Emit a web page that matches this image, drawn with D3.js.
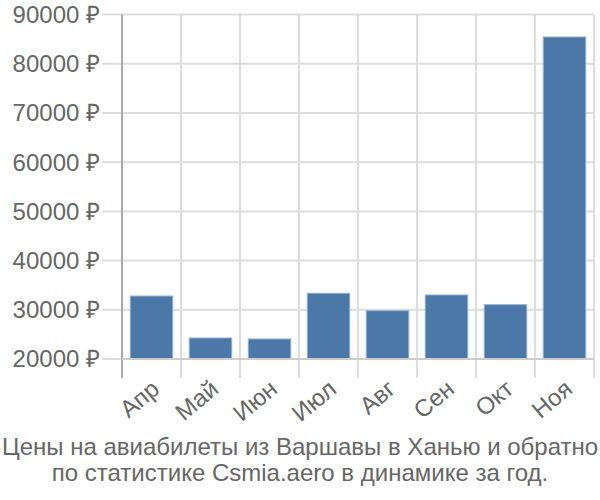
<!DOCTYPE html>
<html><head><meta charset="utf-8">
<script src="https://cdn.jsdelivr.net/npm/d3@7"></script>
<style>body{margin:0;background:#fff}svg{display:block}</style>
</head><body>
<svg id="c" width="600" height="500"></svg>
<script>
const categories = ["Апр","Май","Июн","Июл","Авг","Сен","Окт","Ноя"];
const values = [32800, 24270, 24070, 33350, 29820, 33010, 31040, 85450];
const yTicks = [20000,30000,40000,50000,60000,70000,80000,90000];
const titleLines = ["Цены на авиабилеты из Варшавы в Ханью и обратно","по статистике Csmia.aero в динамике за год."];

(function(){
const svg = d3.select("#c");
const mL = 122, mR = 594, mT = 14.6, mB = 359;
const x = d3.scaleBand().domain(categories).range([mL,mR]).paddingInner(0.28).paddingOuter(0.14);
const y = d3.scaleLinear().domain([20000,90000]).range([mB,mT]);
const font = "'Liberation Sans', Arial, sans-serif";

svg.append("g").selectAll("line").data(yTicks).join("line")
  .attr("x1",102).attr("x2",mR).attr("y1",d=>y(d)).attr("y2",d=>y(d))
  .attr("stroke","#ddd").attr("stroke-width",2);
const bounds = categories.map(c=>x(c)-x.step()*x.paddingOuter()).concat([mR]);
svg.append("g").selectAll("line").data(bounds.slice(1)).join("line")
  .attr("x1",d=>d).attr("x2",d=>d).attr("y1",mT).attr("y2",378)
  .attr("stroke","#ddd").attr("stroke-width",2);
svg.append("line").attr("x1",mL).attr("x2",mL).attr("y1",mT).attr("y2",378)
  .attr("stroke","#aaa").attr("stroke-width",2);

svg.append("g").selectAll("rect").data(values).join("rect")
  .attr("x",(d,i)=>x(categories[i])).attr("width",x.bandwidth())
  .attr("y",d=>y(d)).attr("height",d=>y(20000)-y(d))
  .attr("fill","#4c78a8").attr("stroke","#8fb0d4").attr("stroke-width",1);

svg.append("line").attr("x1",mL).attr("x2",mR).attr("y1",mB).attr("y2",mB)
  .attr("stroke","#ccc").attr("stroke-width",2);

svg.append("g").selectAll("text").data(yTicks).join("text")
  .attr("x",100).attr("y",d=>y(d)).attr("dy","0.35em").attr("text-anchor","end")
  .attr("font-family",font).attr("font-size",24).attr("fill","#666")
  .text(d=>d+" ₽");

svg.append("g").selectAll("text").data(categories).join("text")
  .attr("transform",c=>`translate(${x(c)+x.bandwidth()/2+4},${385}) rotate(-40)`)
  .attr("text-anchor","end").attr("dy","0.35em")
  .attr("font-family",font).attr("font-size",24).attr("fill","#666")
  .text(c=>c);

svg.append("g").selectAll("text").data(titleLines).join("text")
  .attr("x",300).attr("y",(d,i)=>455+i*26).attr("text-anchor","middle")
  .attr("font-family",font).attr("font-size",24).attr("fill","#666")
  .text(d=>d);
})();
</script>
</body></html>
